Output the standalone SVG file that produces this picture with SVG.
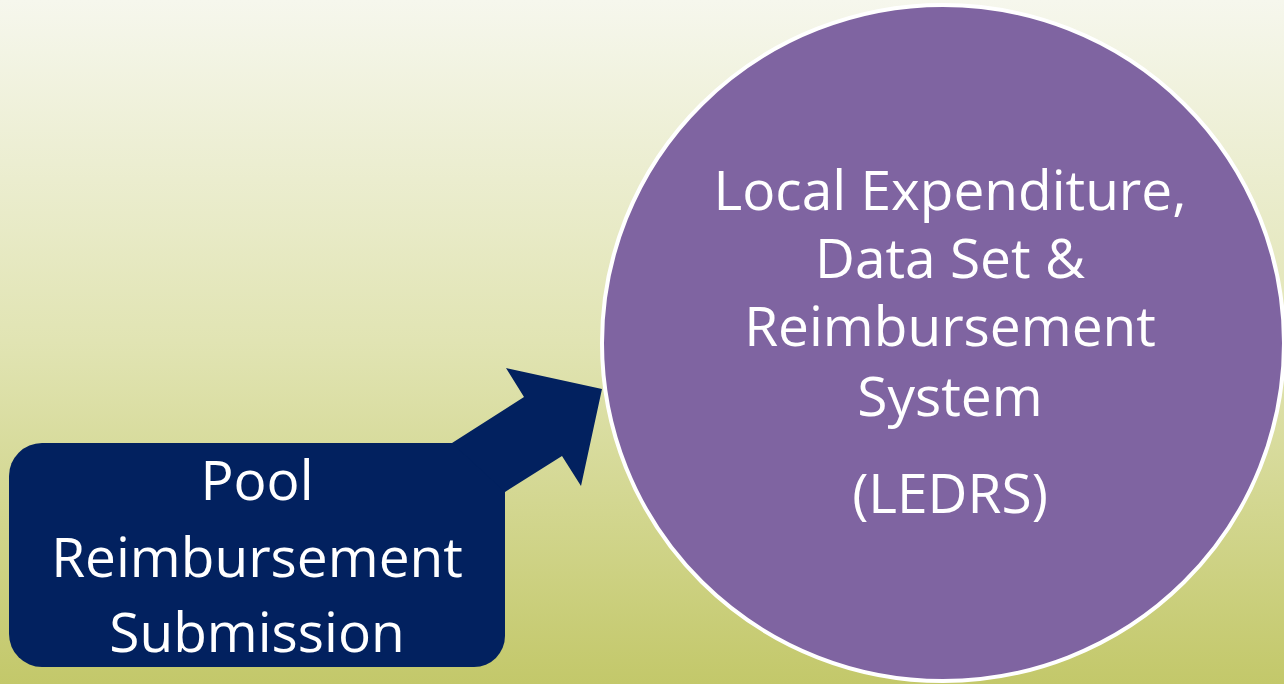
<svg xmlns="http://www.w3.org/2000/svg" width="1284" height="684" viewBox="0 0 1284 684">
<defs>
<linearGradient id="bg" x1="0" y1="0" x2="0" y2="1">
<stop offset="0" stop-color="#f6f7ed"/>
<stop offset="0.5" stop-color="#e1e4b3"/>
<stop offset="1" stop-color="#c3c86a"/>
</linearGradient>
<style>
.t{font-family:"Open Sans","Liberation Sans",sans-serif;font-size:55px;fill:#ffffff;text-anchor:middle;}
</style>
</defs>
<rect x="0" y="0" width="1284" height="684" fill="url(#bg)"/>
<g id="ledrs">
<ellipse cx="943" cy="343" rx="341" ry="338" fill="#7f64a1" stroke="#ffffff" stroke-width="4"/>
<text class="t" x="950" y="210">Local Expenditure,</text>
<text class="t" x="950" y="278">Data Set &amp;</text>
<text class="t" x="950" y="346">Reimbursement</text>
<text class="t" x="950" y="416">System</text>
<text class="t" x="950" y="513">(LEDRS)</text>
</g>
<g id="connectors">
<path d="M452,443 L524,397 L506,368 L602,389 L581,486 L562,456 L505,492 L480,520 L420,470 Z" fill="#02215f"/>
</g>
<g id="pool">
<path d="M43,443 H452 L505,492 V636 A31,31 0 0 1 474,667 H42 A33,33 0 0 1 9,634 V476 A33,33 0 0 1 42,443 Z" fill="#02215f"/>
<text class="t" x="257" y="500">Pool</text>
<text class="t" x="257" y="577">Reimbursement</text>
<text class="t" x="257" y="652">Submission</text>
</g>
</svg>
